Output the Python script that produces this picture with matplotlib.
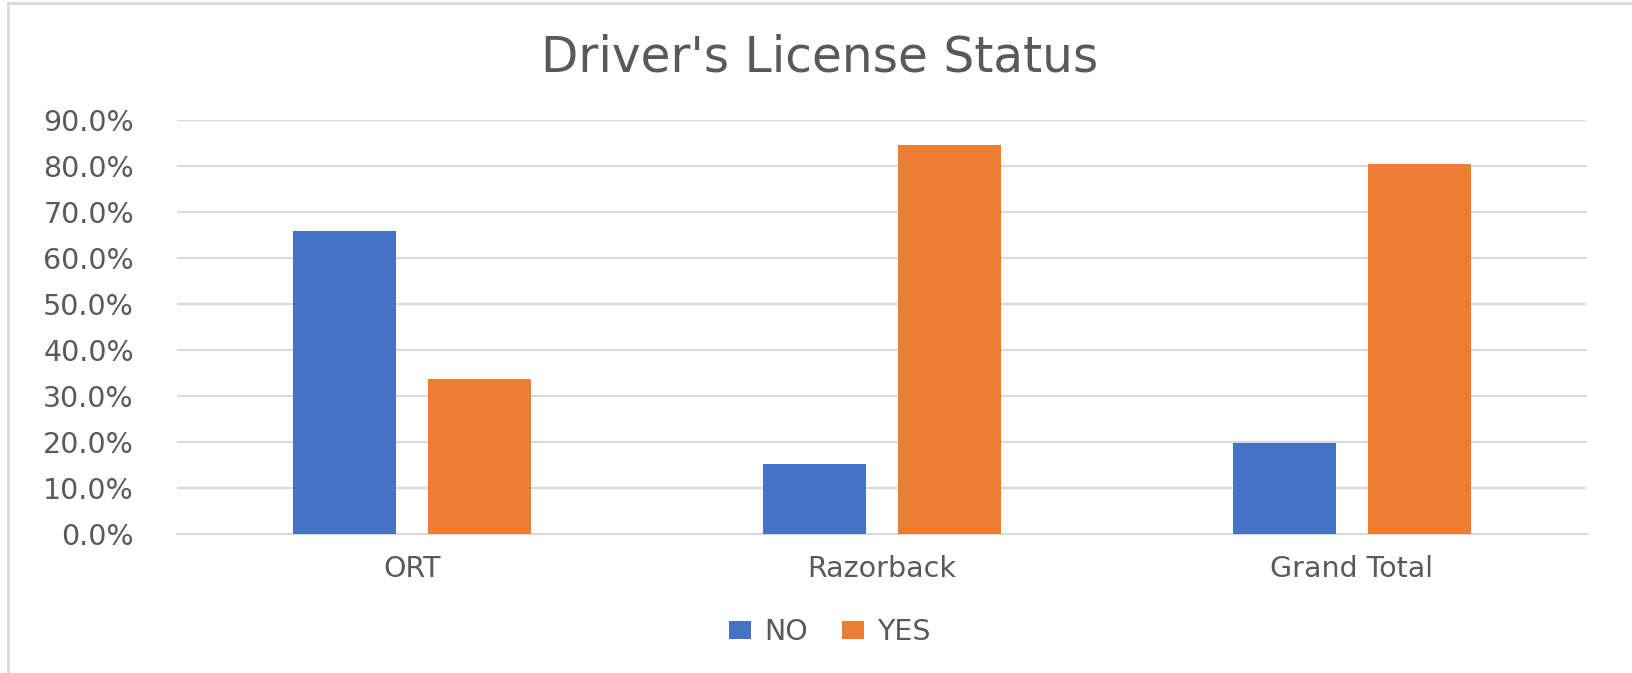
import matplotlib
matplotlib.use("Agg")
import matplotlib.pyplot as plt
from matplotlib.lines import Line2D
from matplotlib.ticker import FuncFormatter
import numpy as np

categories = ["ORT", "Razorback", "Grand Total"]
no_values = [0.659, 0.152, 0.197]
yes_values = [0.338, 0.846, 0.804]
series_names = ["NO", "YES"]
yticks = [0.0, 0.1, 0.2, 0.3, 0.4, 0.5, 0.6, 0.7, 0.8, 0.9]

BLUE = "#4472C4"
ORANGE = "#ED7D31"
GRID = "#D9D9D9"
TEXT = "#595959"

W, H = 1632, 673
fig = plt.figure(figsize=(W / 100, H / 100), dpi=100)
ax = fig.add_axes([177 / W, 1 - 534 / H, (1587 - 177) / W, (534 - 120) / H])

x = np.arange(len(categories))
bw = 0.22
off = 0.144
ax.bar(x - off, no_values, bw, color=BLUE, label=series_names[0], zorder=3)
ax.bar(x + off, yes_values, bw, color=ORANGE, label=series_names[1], zorder=3)

ax.set_xlim(-0.5, len(categories) - 0.5)
ax.set_ylim(0, 0.9)
ax.set_yticks(yticks)
ax.yaxis.set_major_formatter(FuncFormatter(lambda v, p: f"{v*100:.1f}%"))
ax.set_xticks(x)
ax.set_xticklabels(categories)
ax.grid(axis="y", color=GRID, linewidth=1.5, zorder=0)
for s in ["top", "right", "left"]:
    ax.spines[s].set_visible(False)
ax.spines["bottom"].set_color(GRID)
ax.spines["bottom"].set_linewidth(1.5)
ax.tick_params(axis="both", length=0, colors=TEXT, labelsize=20.5)
ax.tick_params(axis="y", pad=31)
ax.tick_params(axis="x", pad=15)

fig.text(820 / W, 1 - 58 / H, "Driver's License Status", ha="center", va="center",
         fontsize=35, color=TEXT)

leg = ax.legend(loc="center", bbox_to_anchor=((830 - 177) / 1410, (534 - 632) / (534 - 120)),
                ncol=2, frameon=False, fontsize=20.5, handlelength=0.78,
                handleheight=0.55, handletextpad=0.45, columnspacing=1.2)
for t in leg.get_texts():
    t.set_color(TEXT)

# outer chart border (left and top)
fig.add_artist(Line2D([8 / W, 8 / W], [0, 1 - 3 / H], transform=fig.transFigure,
                      color=GRID, linewidth=2))
fig.add_artist(Line2D([8 / W, 1], [1 - 3 / H, 1 - 3 / H], transform=fig.transFigure,
                      color=GRID, linewidth=2))

fig.savefig("out.png", dpi=100, facecolor="white")
